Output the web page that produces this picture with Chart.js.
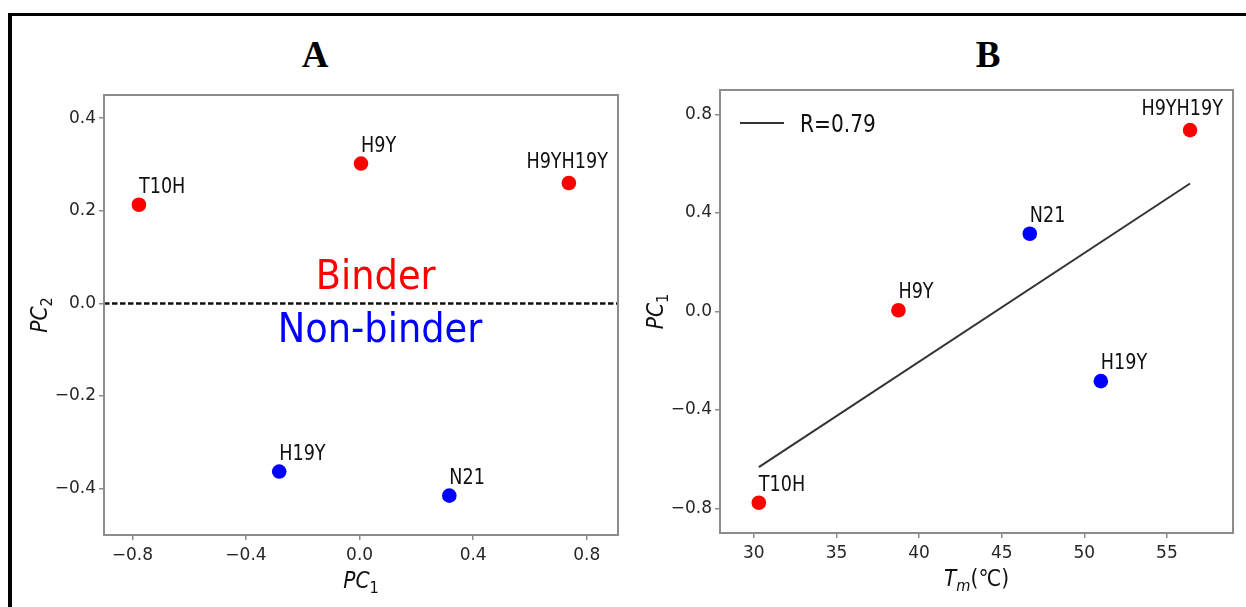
<!DOCTYPE html>
<html>
<head>
<meta charset="utf-8">
<title>PC1 / PC2 and Tm</title>
<script src="https://cdn.jsdelivr.net/npm/chart.js@4.4.1/dist/chart.umd.min.js"></script>
<style>
  html,body{margin:0;padding:0;background:#fff;}
  body{position:relative;width:1246px;height:607px;overflow:hidden;}
  #frame{position:absolute;left:8px;top:13px;width:1300px;height:700px;border-top:3px solid #000;border-left:4px solid #000;}
  .panel{position:absolute;top:0;height:607px;}
  #panelA{left:0;width:630px;}
  #panelB{left:630px;width:616px;}
  .tag{position:absolute;top:36px;font:bold 37px/1 'Liberation Serif','Times New Roman',serif;transform:translateX(-50%);color:#000;}
</style>
</head>
<body>
<div id="frame"></div>
<div class="tag" style="left:315px">A</div>
<div class="tag" style="left:988px">B</div>
<div class="panel" id="panelA"><canvas id="chartA"></canvas></div>
<div class="panel" id="panelB"><canvas id="chartB"></canvas></div>
<script>
// data
const mutants = ['T10H', 'H9Y', 'H9YH19Y', 'H19Y', 'N21'];
const binder  = [true, true, true, false, false];
const pc1 = [-0.777, 0.005, 0.737, -0.283, 0.316];
const pc2 = [0.213, 0.302, 0.260, -0.363, -0.415];
const tm  = [30.3, 38.75, 56.4, 51.0, 46.7];

// regression line ends (panel B)
const fitTm  = [30.3, 56.4];
const fitPc1 = [-0.632, 0.52];
const fitName = 'R=0.79';

// axes
const aXTicks = [-0.8, -0.4, 0.0, 0.4, 0.8];
const aYTicks = [-0.4, -0.2, 0.0, 0.2, 0.4];
const bXTicks = [30, 35, 40, 45, 50, 55];
const bYTicks = [-0.8, -0.4, 0.0, 0.4, 0.8];
const aXRange = [-0.9, 0.91];
const aYRange = [-0.5, 0.45];
const bXRange = [27.95, 59];
const bYRange = [-0.9, 0.9];

// class notes in panel A (text, data position)
const noteText = ['Binder', 'Non-binder'];
const noteAt = [[0.057, 0.032], [0.072, -0.083]];

const FONT = "'DejaVu Sans', sans-serif";
const INK = '#262626';
const SPINE = '#8c8c8c';
const RED = '#ff0000', BLUE = '#0000ff';
const SQUEEZE = 0.84; // the original figure text is a bit narrow

function pcFmt(v){ return Number(v).toFixed(1).replace('-', '\u2212'); }
function intFmt(v){ return String(v); }

function axis(range, ticks, fmt, fit, pad){
  return {
    type: 'linear', min: range[0], max: range[1],
    afterBuildTicks: s => { s.ticks = ticks.map(v => ({value: v})); },
    afterFit: fit,
    grid: {drawOnChartArea: false, drawTicks: true, tickLength: 5, color: SPINE, lineWidth: 1.5},
    border: {display: false},
    ticks: {font: {family: FONT, size: 17}, color: INK, padding: pad, autoSkip: false, maxRotation: 0, callback: fmt}
  };
}

function narrowText(ctx, txt, x, y, sx){
  ctx.save();
  ctx.translate(x, y);
  ctx.scale(sx, 1);
  ctx.fillText(txt, 0, 0);
  ctx.restore();
}

function partFont(p, size){ return (p.it ? 'italic ' : '') + (p.sub ? size * 0.72 : size) + 'px ' + FONT; }
function drawParts(ctx, parts, size, cx, by, sx){
  let w = 0;
  parts.forEach(p => { ctx.font = partFont(p, size); w += ctx.measureText(p.t).width * sx; });
  let x = cx - w / 2;
  ctx.textAlign = 'left'; ctx.textBaseline = 'alphabetic';
  parts.forEach(p => {
    ctx.font = partFont(p, size);
    narrowText(ctx, p.t, x, by + (p.sub ? size * 0.22 : 0), sx);
    x += ctx.measureText(p.t).width * sx;
  });
}

// box, axis titles, point labels
function decor(xTitle, yTitle){
  return {
    id: 'decor',
    afterDatasetsDraw(chart){
      const {ctx, chartArea: a} = chart;
      const meta = chart.getDatasetMeta(chart.data.datasets.length - 1);
      ctx.save();
      ctx.font = '22px ' + FONT;
      ctx.fillStyle = '#111';
      ctx.textBaseline = 'alphabetic';
      ctx.textAlign = 'left';
      meta.data.forEach((pt, i) => {
        const txt = mutants[i];
        const w = ctx.measureText(txt).width * 0.8;
        let x = pt.x, y = pt.y - 12;
        if (x + w > a.right - 6) { x = a.right - 10 - w; y -= 3; }
        narrowText(ctx, txt, x, y, 0.8);
      });
      ctx.restore();
    },
    afterDraw(chart){
      const {ctx, chartArea: a} = chart;
      ctx.save();
      ctx.strokeStyle = SPINE; ctx.lineWidth = 2;
      ctx.strokeRect(a.left, a.top, a.right - a.left, a.bottom - a.top);
      ctx.fillStyle = '#111';
      drawParts(ctx, xTitle, 23, (a.left + a.right) / 2, a.bottom + 53, 0.88);
      ctx.translate(a.left - 57, (a.top + a.bottom) / 2);
      ctx.rotate(-Math.PI / 2);
      drawParts(ctx, yTitle, 23, 0, 0, 0.88);
      ctx.restore();
    }
  };
}

const notes = {
  id: 'notes',
  afterDatasetsDraw(chart){
    const {ctx, scales} = chart;
    ctx.save();
    ctx.font = '40px ' + FONT;
    ctx.textAlign = 'center'; ctx.textBaseline = 'alphabetic';
    noteText.forEach((t, i) => {
      ctx.fillStyle = i === 0 ? RED : BLUE;
      narrowText(ctx, t, scales.x.getPixelForValue(noteAt[i][0]), scales.y.getPixelForValue(noteAt[i][1]), 0.92);
    });
    ctx.restore();
  }
};

const fitLegend = {
  id: 'fitLegend',
  afterDraw(chart){
    const {ctx, chartArea: a} = chart;
    const ds = chart.data.datasets[0];
    const y = a.top + 33;
    ctx.save();
    ctx.strokeStyle = ds.borderColor; ctx.lineWidth = ds.borderWidth;
    ctx.beginPath(); ctx.moveTo(a.left + 20, y); ctx.lineTo(a.left + 64, y); ctx.stroke();
    ctx.fillStyle = '#111';
    ctx.font = '24px ' + FONT;
    ctx.textAlign = 'left'; ctx.textBaseline = 'alphabetic';
    narrowText(ctx, ds.label, a.left + 80, y + 9, SQUEEZE);
    ctx.restore();
  }
};

const pointColors = binder.map(b => b ? RED : BLUE);
const common = {
  responsive: true, maintainAspectRatio: false, animation: false, devicePixelRatio: 1,
  events: [],
  plugins: {legend: {display: false}, tooltip: {enabled: false}}
};

new Chart(document.getElementById('chartA'), {
  type: 'scatter',
  data: {
    datasets: [
      {
        label: 'zero',
        data: [{x: aXRange[0], y: 0}, {x: aXRange[1], y: 0}],
        showLine: true, borderColor: '#111', borderWidth: 2.5, borderDash: [5.5, 2.5], pointRadius: 0
      },
      {
        label: 'mutants',
        data: pc1.map((v, i) => ({x: v, y: pc2[i]})),
        pointRadius: 7.3, pointHoverRadius: 7.3, pointBorderWidth: 0,
        pointBackgroundColor: pointColors, backgroundColor: pointColors
      }
    ]
  },
  options: Object.assign({}, common, {
    layout: {padding: {top: 95, right: 12, bottom: 0, left: 0}},
    scales: {
      x: axis(aXRange, aXTicks, pcFmt, s => { s.height = 72; }, 5),
      y: axis(aYRange, aYTicks, pcFmt, s => { s.width = 104; }, 3)
    }
  }),
  plugins: [notes, decor([{t: 'PC', it: true}, {t: '1', sub: true}], [{t: 'PC', it: true}, {t: '2', sub: true}])]
});

new Chart(document.getElementById('chartB'), {
  type: 'scatter',
  data: {
    datasets: [
      {
        label: fitName,
        data: fitTm.map((v, i) => ({x: v, y: fitPc1[i]})),
        showLine: true, borderColor: '#333', borderWidth: 2, pointRadius: 0
      },
      {
        label: 'mutants',
        data: tm.map((v, i) => ({x: v, y: pc1[i]})),
        pointRadius: 7.3, pointHoverRadius: 7.3, pointBorderWidth: 0,
        pointBackgroundColor: pointColors, backgroundColor: pointColors
      }
    ]
  },
  options: Object.assign({}, common, {
    layout: {padding: {top: 90, right: 13, bottom: 0, left: 0}},
    scales: {
      x: axis(bXRange, bXTicks, intFmt, s => { s.height = 74; }, 5),
      y: axis(bYRange, bYTicks, pcFmt, s => { s.width = 90; }, 3)
    }
  }),
  plugins: [fitLegend, decor([{t: 'T', it: true}, {t: 'm', it: true, sub: true}, {t: '(\u2103)'}], [{t: 'PC', it: true}, {t: '1', sub: true}])]
});
</script>
</body>
</html>
